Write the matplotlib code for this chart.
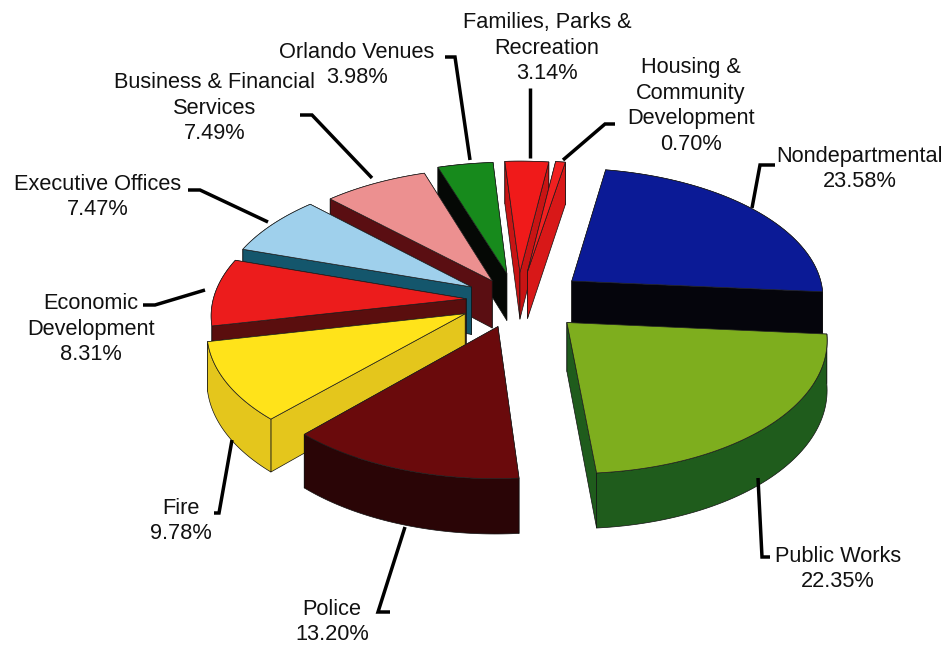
import numpy as np
import matplotlib
matplotlib.use("Agg")
import matplotlib.pyplot as plt
from matplotlib.patches import Polygon

plt.rcParams['font.family'] = ['Liberation Sans', 'DejaVu Sans']

# Data (clockwise from the start angle)
labels = ["Nondepartmental", "Public Works", "Police", "Fire", "Economic\nDevelopment",
          "Executive Offices", "Business & Financial\nServices", "Orlando Venues",
          "Families, Parks &\nRecreation", "Housing &\nCommunity\nDevelopment"]
values = [23.58, 22.35, 13.20, 9.78, 8.31, 7.47, 7.49, 3.98, 3.14, 0.70]

# Styles
top_colors = ["#0b1a96", "#7eae1e", "#6a0a0c", "#ffe31a", "#ec1c1c",
              "#9fd0ec", "#ec9090", "#178a1c", "#f01a1a", "#f02020"]
wall_colors = ["#05050c", "#1f5c1c", "#2a0506", "#e4c61c", "#5a0e0e",
               "#14566c", "#5a0e12", "#050805", "#c81414", "#d81818"]
explode = [69, 68, 60, 60, 52, 55, 50, 60, 62, 64]
label_pos = [(860, 168), (838, 568), (332, 621), (181, 520), (91, 328),
             (98, 196), (215, 107), (357, 64), (547, 47), (691, 105)]
leaders = [[(775, 165), (760, 165), (752, 208)],
           [(770, 557), (762, 557), (758, 478)],
           [(390, 612), (378, 612), (405, 527)],
           [(214, 513), (219, 513), (232, 440)],
           [(143, 305), (155, 305), (205, 290)],
           [(188, 190), (200, 190), (268, 222)],
           [(300, 115), (312, 115), (372, 178)],
           [(445, 57), (455, 57), (470, 160)],
           [(530, 88), (530, 158)],
           [(615, 124), (605, 124), (563, 160)]]

CX, CY, R, K, P, DEPTH, START = 518, 300, 253, 0.51, 0.11, 48, 80


def project(u, v, z=0.0):
    """u, v on the unit disc; z in 0..1 is the downward extrusion."""
    s = 1 / (1 + P * v)
    return CX + R * u * s, CY - R * K * v * s + DEPTH * z * s


fig = plt.figure(figsize=(9.48, 6.48), dpi=100, facecolor="white")
ax = fig.add_axes([0, 0, 1, 1])
ax.set_xlim(0, 948)
ax.set_ylim(648, 0)
ax.axis("off")

angles = START - np.cumsum([0] + values) * 3.6
order = sorted(range(len(values)), key=lambda i: np.sin(np.radians((angles[i] + angles[i + 1]) / 2)), reverse=True)

for i in order:
    a0, a1 = angles[i], angles[i + 1]
    mid = np.radians((a0 + a1) / 2)
    ox, oy = explode[i] * np.cos(mid) / R, explode[i] * np.sin(mid) / R * 0.9
    th = np.radians(np.linspace(a0, a1, 60))
    us, vs = ox + np.cos(th), oy + np.sin(th)
    top = [project(ox, oy)] + [project(u, v) for u, v in zip(us, vs)]
    faces = [
        [project(ox, oy), project(us[0], vs[0]), project(us[0], vs[0], 1), project(ox, oy, 1)],
        [project(ox, oy), project(us[-1], vs[-1]), project(us[-1], vs[-1], 1), project(ox, oy, 1)],
        [project(u, v) for u, v in zip(us, vs)] + [project(u, v, 1) for u, v in zip(us[::-1], vs[::-1])],
    ]
    faces.sort(key=lambda f: np.mean([p[1] for p in f]))
    for f in faces:
        ax.add_patch(Polygon(f, closed=True, fc=wall_colors[i], ec="#101010", lw=0.5, joinstyle="round"))
    ax.add_patch(Polygon(top, closed=True, fc=top_colors[i], ec="#202020", lw=0.5, joinstyle="round"))

for name, val, pos, line in zip(labels, values, label_pos, leaders):
    ax.text(pos[0], pos[1] + 1, f"{name}\n{val:.2f}%", ha="center", va="center",
            fontsize=15.7, linespacing=1.3, color="#111111")
    xs, ys = zip(*line)
    ax.plot(xs, ys, color="black", lw=2.5, solid_joinstyle="miter", solid_capstyle="butt")

fig.savefig("out.png", dpi=100, facecolor="white")
